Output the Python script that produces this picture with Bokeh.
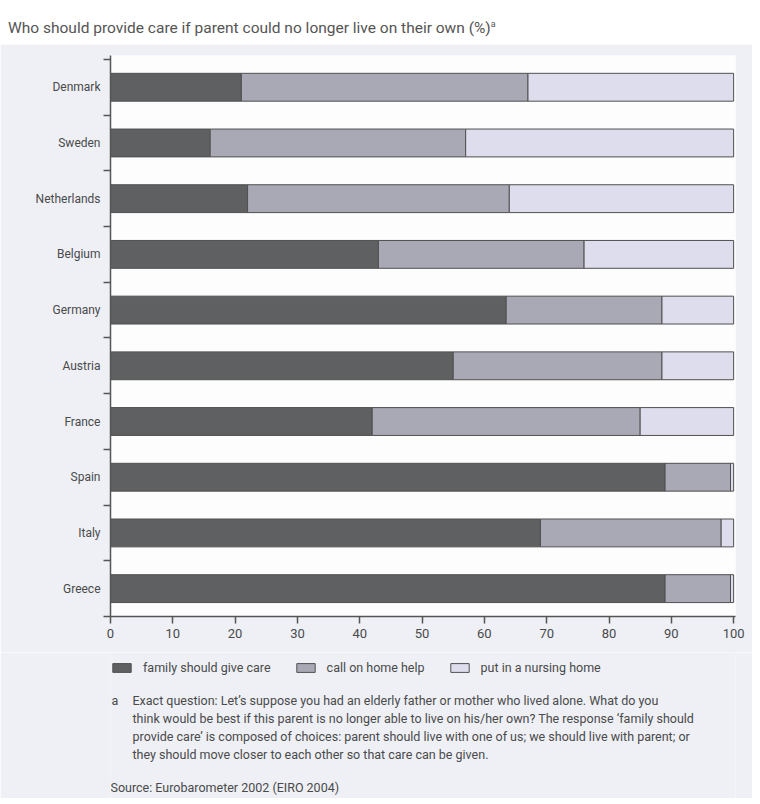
from bokeh.plotting import figure
from bokeh.models import (Range1d, FixedTicker, Legend, LegendItem, Label, Div,
                          ColumnDataSource)
from bokeh.layouts import column
from bokeh.embed import file_html
from bokeh.resources import INLINE

# ---------------- data ----------------
countries = ["Denmark", "Sweden", "Netherlands", "Belgium", "Germany",
             "Austria", "France", "Spain", "Italy", "Greece"]
family = [21, 16, 22, 43, 63.5, 55, 42, 89, 69, 89]
home_help = [46, 41, 42, 33, 25, 33.5, 43, 10.5, 29, 10.5]
nursing = [33, 43, 36, 24, 11.5, 11.5, 15, 0.5, 2, 0.5]
series_names = ["family should give care", "call on home help", "put in a nursing home"]
x_ticks = [0, 10, 20, 30, 40, 50, 60, 70, 80, 90, 100]
title_text = "Who should provide care if parent could no longer live on their own (%)"
note_lines = [
    "Exact question: Let\u2019s suppose you had an elderly father or mother who lived alone. What do you",
    "think would be best if this parent is no longer able to live on his/her own? The response \u2018family should",
    "provide care\u2019 is composed of choices: parent should live with one of us; we should live with parent; or",
    "they should move closer to each other so that care can be given.",
]
source_text = "Source: Eurobarometer 2002 (EIRO 2004)"

FONT = "Roboto"
TXT = "#4a4a4a"
PANEL = "#eef0f6"
colors = ["#5e6062", "#a9a9b6", "#dddded"]
EDGE = "#505050"

n = len(countries)
ypos = [n - 1 - i for i in range(n)]
src = ColumnDataSource(dict(y=ypos, country=countries, family=family,
                            home_help=home_help, nursing=nursing))

p = figure(frame_width=625, frame_height=561, output_backend="svg",
           toolbar_location=None, x_range=Range1d(0, 100.3),
           y_range=Range1d(-0.5, n - 0.5 + 0.07),
           min_border_left=110, min_border_right=17, min_border_top=11,
           min_border_bottom=36)
p.background_fill_color = "#fdfdfd"
p.border_fill_color = PANEL
p.outline_line_color = None
p.xgrid.visible = False
p.ygrid.visible = False

rs = p.hbar_stack(["family", "home_help", "nursing"], y="y", height=0.5,
                  color=colors, line_color=EDGE, line_width=1, source=src)

# x axis
xa = p.xaxis[0]
xa.ticker = FixedTicker(ticks=x_ticks, minor_ticks=[])
xa.major_tick_out = 7
xa.major_tick_in = 0
xa.minor_tick_out = 0
xa.axis_line_color = "#555555"
xa.axis_line_width = 1.5
xa.major_tick_line_color = "#555555"
xa.major_tick_line_width = 1.5
xa.major_label_text_font = FONT
xa.major_label_text_font_size = "13px"
xa.major_label_text_color = TXT
xa.major_label_standoff = 5

# y axis
ya = p.yaxis[0]
ya.ticker = FixedTicker(ticks=ypos, minor_ticks=[k - 0.5 for k in range(n + 1)])
ya.major_label_overrides = {y: c for y, c in zip(ypos, countries)}
ya.major_tick_out = 0
ya.major_tick_in = 0
ya.minor_tick_out = 7
ya.minor_tick_in = 0
ya.minor_tick_line_color = "#555555"
ya.minor_tick_line_width = 1.5
ya.axis_line_color = "#555555"
ya.axis_line_width = 1.5
ya.major_label_text_font = FONT
ya.major_label_text_font_size = "12px"
ya.major_label_text_color = TXT
ya.major_label_standoff = 3

# footnote / legend panel (its frame is aligned with the chart frame by the column)
H2 = 146
p2 = figure(width=752, height=H2, output_backend="svg", toolbar_location=None,
            x_axis_type=None, y_axis_type=None, x_range=Range1d(0, 1),
            y_range=Range1d(0, 1), min_border=0)
p2.background_fill_color = PANEL
p2.border_fill_color = PANEL
p2.outline_line_color = None
p2.xgrid.visible = False
p2.ygrid.visible = False

# legend swatches: one hidden (out of range, zero width) bar each, styled like the stack
swatches = [p2.hbar(y=[-1], left=[0], right=[0], height=0.5, fill_color=c,
                    line_color=EDGE, line_width=1) for c in colors]
legend = Legend(items=[LegendItem(label=nm, renderers=[r]) for nm, r in zip(series_names, swatches)],
                orientation="horizontal", location=(0, H2 - 23), padding=0, margin=0,
                spacing=23, label_standoff=10, glyph_width=23, glyph_height=11,
                label_height=14, background_fill_alpha=0, border_line_alpha=0,
                label_text_font=FONT, label_text_font_size="12.5px",
                label_text_color=TXT)
p2.add_layout(legend)

FS = "12.5px"
y1 = H2 - 48
p2.add_layout(Label(x=1, y=y1, x_units="screen", y_units="screen", text="a",
                    text_font=FONT, text_font_size=FS, text_color=TXT,
                    text_baseline="middle"))
for i, line in enumerate(note_lines):
    p2.add_layout(Label(x=22, y=y1 - 18 * i, x_units="screen", y_units="screen",
                        text=line, text_font=FONT, text_font_size=FS,
                        text_color=TXT, text_baseline="middle"))
p2.add_layout(Label(x=0, y=11, x_units="screen", y_units="screen", text=source_text,
                    text_font=FONT, text_font_size=FS, text_color=TXT,
                    text_baseline="middle"))

title = Div(text=f'<div style="font-family:\'{FONT}\'; font-size:15.5px; color:#555; '
                 f'padding-top:9px; line-height:20px; white-space:nowrap; padding-left:3px">{title_text}'
                 f'<sup style="font-size:9px">a</sup></div>',
            width=752, height=34)

layout = column(title, p, p2, spacing=0)
open("out.html", "w").write(file_html(layout, INLINE))
